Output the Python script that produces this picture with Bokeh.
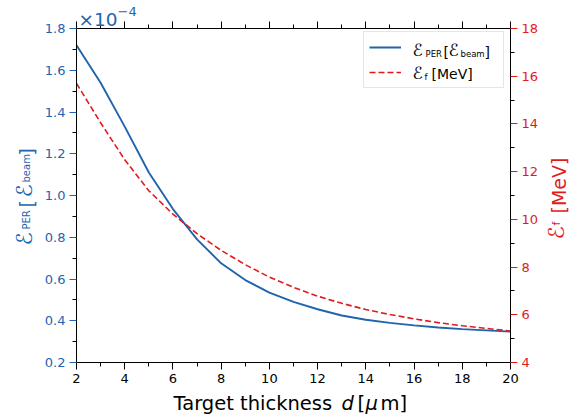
import math
from bokeh.plotting import figure
from bokeh.models import (Range1d, LinearAxis, Label, Legend, LegendItem,
                          FixedTicker, PrintfTickFormatter, CustomJSTickFormatter)
from bokeh.embed import file_html
from bokeh.resources import INLINE

# ---------------- data ----------------
thickness = [2, 3, 4, 5, 6, 7, 8, 9, 10, 11, 12, 13, 14, 15, 16, 17, 18, 19, 20]
per_energy_1e4 = [1.72, 1.54, 1.33, 1.11, 0.935, 0.79, 0.675, 0.595, 0.535, 0.49,
                  0.455, 0.425, 0.405, 0.39, 0.378, 0.368, 0.36, 0.354, 0.348]
final_energy_mev = [15.7, 14.05, 12.5, 11.2, 10.22, 9.4, 8.7, 8.1, 7.58, 7.15,
                    6.78, 6.48, 6.22, 6.01, 5.83, 5.67, 5.54, 5.43, 5.32]
x_ticks = [2, 4, 6, 8, 10, 12, 14, 16, 18, 20]
left_ticks = [0.2, 0.4, 0.6, 0.8, 1.0, 1.2, 1.4, 1.6, 1.8]
right_ticks = [4, 6, 8, 10, 12, 14, 16, 18]

X0, X1 = 2, 20          # axis limits
Y0, Y1 = 0.2, 1.8
M0, M1 = 4, 18

BLUE = "#1f64ad"
RED = "#e31a1c"
FONT = "DejaVu Sans"

# axes box position in the picture (pixels) and canvas size
FL, FR, FT, FB = 76, 510, 28, 362
W, H = 576, 416

def lin(a0, a1, p0, p1, p):
    return a0 + (p - p0) * (a1 - a0) / (p1 - p0)

def minors(t):
    return [(a + b) / 2 for a, b in zip(t[:-1], t[1:])]

# the canvas spans the whole picture; axes are placed at the axis limits
x_range = Range1d(lin(X0, X1, FL, FR, 0), lin(X0, X1, FL, FR, W))
y_range = Range1d(lin(Y0, Y1, FB, FT, H), lin(Y0, Y1, FB, FT, 0))
m_range = Range1d(lin(M0, M1, FB, FT, H), lin(M0, M1, FB, FT, 0))

p = figure(width=W, height=H, output_backend="svg", toolbar_location=None,
           x_range=x_range, y_range=y_range,
           x_axis_location=None, y_axis_location=None, min_border=0)
p.extra_y_ranges = {"mev": m_range}
p.grid.visible = False
p.outline_line_color = None
p.background_fill_color = "white"
p.border_fill_color = "white"

def style_axis(ax, label_color, tick_color):
    ax.major_tick_out = 7
    ax.major_tick_in = 0
    ax.minor_tick_out = 4
    ax.minor_tick_in = 0
    ax.major_label_standoff = 4
    ax.major_label_text_font = FONT
    ax.major_label_text_font_size = "13px"
    ax.major_label_text_color = label_color
    ax.major_tick_line_color = tick_color
    ax.minor_tick_line_color = "black"
    ax.axis_line_color = "black"
    ax.axis_line_width = 1

bottom = LinearAxis(fixed_location=Y0, bounds=(X0, X1),
                    ticker=FixedTicker(ticks=x_ticks, minor_ticks=minors(x_ticks)))
style_axis(bottom, "black", "black")
p.add_layout(bottom, "below")

top = LinearAxis(fixed_location=Y1, bounds=(X0, X1),
                 ticker=FixedTicker(ticks=x_ticks, minor_ticks=minors(x_ticks)),
                 formatter=CustomJSTickFormatter(code="return ''"))
style_axis(top, "black", "black")
top.major_label_text_font_size = "0px"
p.add_layout(top, "above")

left = LinearAxis(fixed_location=X0, bounds=(Y0, Y1),
                  ticker=FixedTicker(ticks=left_ticks, minor_ticks=minors(left_ticks)),
                  formatter=PrintfTickFormatter(format="%.1f"))
style_axis(left, BLUE, BLUE)
p.add_layout(left, "left")

right = LinearAxis(fixed_location=X1, bounds=(M0, M1), y_range_name="mev",
                   ticker=FixedTicker(ticks=right_ticks, minor_ticks=minors(right_ticks)))
style_axis(right, RED, RED)
p.add_layout(right, "right")

l1 = p.line(thickness, per_energy_1e4, line_color=BLUE, line_width=1.9)
l2 = p.line(thickness, final_energy_mev, line_color=RED, line_width=1.6,
            line_dash="6 3", y_range_name="mev")

legend = Legend(items=[LegendItem(label=" ", renderers=[l1]),
                       LegendItem(label=" ", renderers=[l2])],
                location=(363, H - 88), padding=5, spacing=5, margin=0,
                glyph_width=32, glyph_height=20, label_height=20, label_width=87,
                label_standoff=10, label_text_font_size="14px",
                border_line_color="#cccccc", border_line_width=1,
                background_fill_alpha=0.0, level="annotation")
p.add_layout(legend)

# ------------- text pieces (picture pixel positions -> data coords) -------------
def lab(text, px, py, size, color, angle=0.0, style="normal"):
    s = float(size.replace("px", ""))
    if angle:
        px -= 0.35 * s
    else:
        py -= 0.35 * s
    x = lin(X0, X1, FL, FR, px)
    y = lin(Y0, Y1, FB, FT, py)
    p.add_layout(Label(level="overlay", x=x, y=y, text=text, text_font=FONT,
                       text_font_size=size, text_color=color, angle=angle,
                       text_font_style=style, text_align="left",
                       text_baseline="alphabetic"))

# x-axis label
lab("Target thickness", 173, 410, "19.5px", "black")
lab("d", 341, 410, "19.5px", "black", style="italic")
lab("[", 357, 410, "19.5px", "black")
lab("\u03bc", 365, 410, "19.5px", "black", style="italic")
lab("m]", 380, 410, "19.5px", "black")

# left y label (rotated, reads upward)
up = math.pi / 2
lab("\u2130", 32, 245, "22px", BLUE, angle=up)
lab("PER", 29, 229, "10px", BLUE, angle=up)
lab("[", 33, 207, "19px", BLUE, angle=up)
lab("\u2130", 32, 197, "22px", BLUE, angle=up)
lab("beam", 29, 182, "10px", BLUE, angle=up)
lab("]", 33, 155, "19px", BLUE, angle=up)

# right y label
lab("\u2130", 564, 239, "22px", RED, angle=up)
lab("f", 560, 225, "11px", RED, angle=up)
lab("[MeV]", 565, 213, "19px", RED, angle=up)

# multiplier
lab("\u00d710", 78, 25, "18.5px", BLUE)
lab("\u22124", 117, 16, "13px", BLUE)

# legend texts
lab("\u2130", 412, 55, "17px", "black")
lab("PER", 425, 56, "8.5px", "black")
lab("[", 443, 56, "14px", "black")
lab("\u2130", 448, 55, "17px", "black")
lab("beam", 460, 56, "8.5px", "black")
lab("]", 484, 56, "14px", "black")
lab("\u2130", 412, 78, "17px", "black")
lab("f", 424, 79, "8.5px", "black")
lab("[MeV]", 431, 78, "14px", "black")

open("out.html", "w").write(file_html(p, INLINE))
